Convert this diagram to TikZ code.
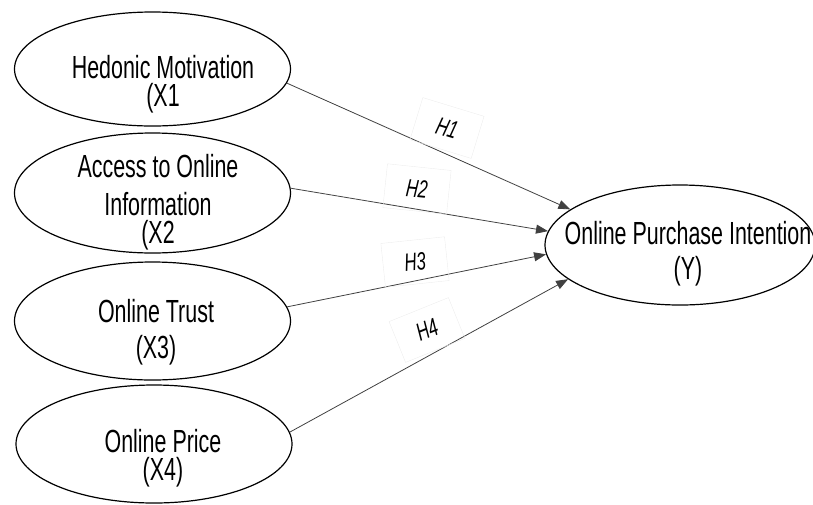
\documentclass[tikz,border=0pt]{standalone}
\usepackage{fontspec}
\setmainfont[FakeStretch=0.67]{Liberation Sans}
\usetikzlibrary{shapes.geometric,arrows.meta}
\begin{document}
\begin{tikzpicture}[x=1pt,y=-1pt,
    var/.style={ellipse, draw, line width=1.2pt, inner sep=0pt},
    txt/.style={align=center, inner sep=0pt, font=\fontsize{32}{34}\selectfont},
    hyp/.style={draw=black!7, minimum width=64pt, minimum height=44pt, font=\fontsize{25}{27}\selectfont\itshape},
    path/.style={-{Triangle[length=12pt,width=9pt]}, draw=black!75, line width=0.8pt}]
    \useasboundingbox (0,0) rectangle (813,504);

    % Variablen
    \node[var, minimum width=276pt, minimum height=114pt] (x1) at (152.5,69) {};
    \node[var, minimum width=276pt, minimum height=120pt] (x2) at (152.5,193) {};
    \node[var, minimum width=276pt, minimum height=118pt] (x3) at (152.5,321) {};
    \node[var, minimum width=276pt, minimum height=118pt] (x4) at (154,444) {};
    \node[var, minimum width=270pt, minimum height=120pt] (y) at (680,245) {};

    % Beschriftungen
    \node[txt] (t1) at (163,84) {Hedonic Motivation\\[-6pt](X1};
    \node[txt] (t2) at (158,202) {Access to Online\\[4pt]Information\\[-6pt](X2};
    \node[txt] (t3) at (156,332) {Online Trust\\[2pt](X3)};
    \node[txt] (t4) at (163,458) {Online Price\\[-6pt](X4)};
    \node[txt] (ty) at (688,254) {Online Purchase Intention\\[1pt](Y)};

    % Pfade
    \draw[path] (x1.-6) -- (y.162.6);
    \draw[path] (x2.2) -- (y.174);
    \draw[path] (x3.6.6) -- (y.184);
    \draw[path] (x4.5) -- (y.197);

    % Hypothesen
    \node[hyp, rotate=-17] (h1) at (447,128) {H1};
    \node[hyp, rotate=-6] (h2) at (417,189) {H2};
    \node[hyp, rotate=6] (h3) at (415,262) {H3};
    \node[hyp, rotate=22] (h4) at (427,330) {H4};
\end{tikzpicture}
\end{document}
